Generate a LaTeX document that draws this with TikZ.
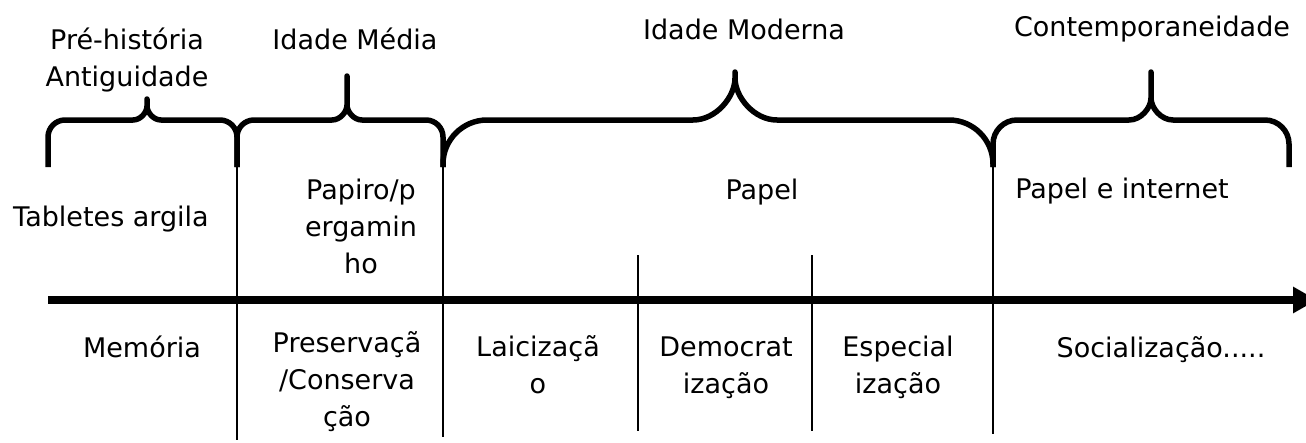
\documentclass[tikz,border=0pt]{standalone}
\usepackage{fontspec}
\setmainfont{DejaVu Sans}
\usetikzlibrary{positioning}
\usetikzlibrary{arrows.meta}

% brace over one era: left, tip, right, tip height, corner, curl
\newcommand{\erabrace}[6]{%
	\draw[era] (#1,167) -- (#1,120+#5)
		.. controls (#1,120+0.45*#5) and (#1+0.45*#5,120) .. (#1+#5,120)
		-- (#2-#6,120)
		.. controls (#2-0.45*#6,120) and (#2,120-0.55*#6) .. (#2,120-#6)
		-- (#2,#4) -- (#2,120-#6)
		.. controls (#2,120-0.55*#6) and (#2+0.45*#6,120) .. (#2+#6,120)
		-- (#3-#5,120)
		.. controls (#3-0.45*#5,120) and (#3,120+0.45*#5) .. (#3,120+#5)
		-- (#3,167);}

\begin{document}
\begin{tikzpicture}[x=1pt, y=-1pt,
		era/.style={line width=5.5pt, line join=round},
		sep/.style={line width=1.3pt},
		axis/.style={line width=8.5pt, -{Triangle[length=24pt,width=25pt]}},
		lbl/.style={font=\fontsize{27}{37}\selectfont, align=center, inner sep=0pt, anchor=base}
	]
	\clip (0,0) rectangle (1306,442);
	
	\erabrace{48}{147}{237}{99}{17}{14}
	\erabrace{237}{347}{443}{76}{17}{15}
	\erabrace{443}{735}{993}{72}{44}{42}
	\erabrace{993}{1151}{1289}{72}{24}{22}
	
	\node[lbl] (prehist) at (127,86) {Pré-história\\Antiguidade};
	\node[lbl] (medieval) at (355,49) {Idade Média};
	\node[lbl] (modern) at (744,39) {Idade Moderna};
	\node[lbl] (contemp) at (1152,36) {Contemporaneidade};
	
	\node[lbl] (argila) at (111,226) {Tabletes argila};
	\node[lbl] (papiro) at (361,273) {Papiro/p\\ergamin\\ho};
	\node[lbl] (papel) at (762,199) {Papel};
	\node[lbl] (internet) at (1122,198) {Papel e internet};
	
	\coordinate (start) at (48,300);
	\coordinate (end) at (1317,300);
	\draw[axis] (start) -- (end);
	
	\draw[sep] (237,167) -- (237,440);
	\draw[sep] (443,167) -- (443,437);
	\draw[sep] (638,255) -- (638,431);
	\draw[sep] (812,255) -- (812,431);
	\draw[sep] (993,167) -- (993,434);
	
	\node[lbl] (memoria) at (142,357) {Memória};
	\node[lbl] (preserv) at (347,426) {Preservaçã\\/Conserva\\ção};
	\node[lbl] (laic) at (538,393) {Laicizaçã\\o};
	\node[lbl] (democ) at (726,393) {Democrat\\ização};
	\node[lbl] (espec) at (898,393) {Especial\\ização};
	\node[lbl] (social) at (1161,357) {Socialização.....};
\end{tikzpicture}
\end{document}
